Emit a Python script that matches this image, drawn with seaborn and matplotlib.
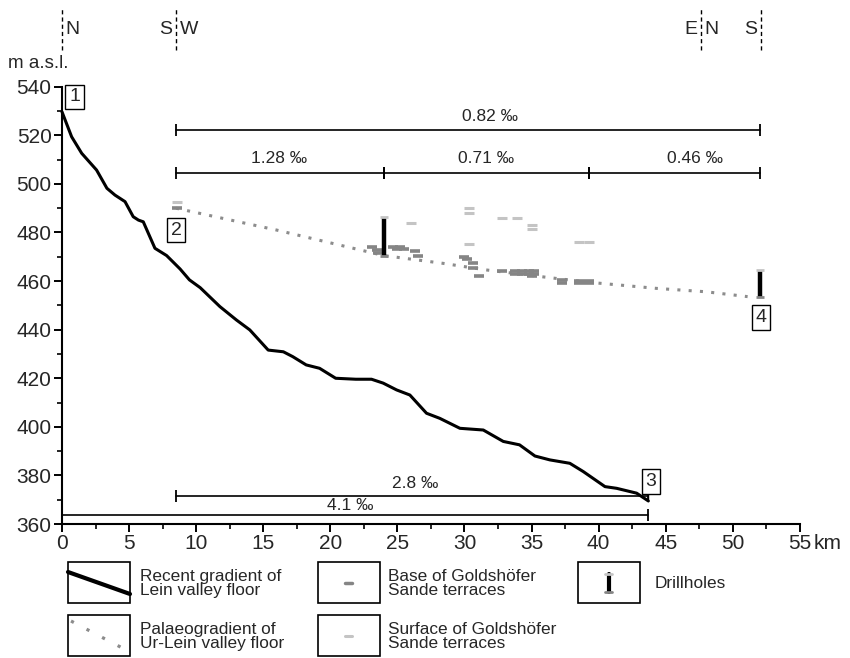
import matplotlib
matplotlib.use("Agg")
import matplotlib.pyplot as plt
import seaborn as sns
import pandas as pd
from matplotlib.ticker import MultipleLocator
from matplotlib.patches import Rectangle

# ---------------- data ----------------
recent_km = [0.0, 0.72, 1.47, 2.58, 3.35, 3.95, 4.7, 5.31, 5.7, 6.06, 6.93, 7.8,
             8.8, 9.5, 10.3, 11.77, 13.0, 14.0, 15.37, 16.5, 17.2, 18.2, 19.2,
             20.4, 21.9, 23.07, 23.94, 24.94, 25.93, 27.17, 28.16, 29.66, 31.4,
             32.89, 34.1, 35.25, 36.36, 37.85, 38.85, 40.47, 41.34, 42.83, 43.7]
recent_m = [529.7, 519.4, 512.6, 505.7, 498.2, 495.4, 492.7, 486.5, 485.1, 484.4,
            473.5, 470.5, 465.0, 460.5, 457.3, 449.5, 444.0, 439.9, 431.6, 430.9,
            428.9, 425.5, 424.1, 420.0, 419.6, 419.6, 418.0, 415.2, 413.1, 405.6,
            403.5, 399.4, 398.7, 394.0, 392.6, 388.0, 386.4, 385.0, 381.6, 375.4,
            374.7, 372.7, 369.5]

palaeo_km = [8.5, 16.0, 20.1, 24.0, 28.4, 31.6, 35.9, 39.3, 44.3, 48.0, 51.1]
palaeo_m = [490.0, 481.0, 475.6, 470.5, 467.3, 464.6, 461.7, 459.5, 457.0, 455.6, 453.6]

base_km = [8.55, 23.1, 23.45, 23.55, 24.7, 25.2, 25.0, 25.5, 26.3, 26.5,
           30.0, 30.2, 30.6, 30.6, 31.1, 32.8, 33.8, 34.3, 34.8, 35.2,
           33.8, 34.3, 34.8, 35.2, 35.0, 37.3, 37.3, 38.5, 38.5, 39.3, 39.3]
base_m = [490.0, 473.9, 472.8, 471.6, 474.2, 474.2, 473.1, 473.1, 472.3, 470.3,
          470.0, 469.1, 467.3, 465.5, 462.2, 464.2, 464.0, 464.0, 464.0, 464.0,
          463.0, 463.0, 463.0, 463.0, 462.0, 460.5, 459.2, 459.2, 460.0, 459.2, 460.0]

surface_km = [8.55, 26.05, 30.3, 30.3, 30.3, 32.8, 33.95, 35.0, 35.0, 38.5, 39.3]
surface_m = [492.7, 484.0, 490.2, 488.2, 475.2, 486.1, 486.1, 483.1, 481.3, 476.0, 476.0]

drill_km = [24.0, 52.0]
drill_top = [486.3, 464.5]
drill_bottom = [470.3, 453.6]

grad_labels = ["0.82 ‰", "1.28 ‰", "0.71 ‰", "0.46 ‰", "2.8 ‰", "4.1 ‰"]
grad_start = [8.5, 8.5, 24.0, 39.3, 8.5, 0.0]
grad_end = [52.0, 24.0, 39.3, 52.0, 43.7, 43.7]
grad_level = [522.0, 504.4, 504.4, 504.4, 371.6, 363.8]
grad_label_km = [31.9, 16.2, 31.6, 47.2, 26.3, 21.5]
grad_label_gap = [5, 5, 5, 5, 3.5, 1]

point_ids = ["1", "2", "3", "4"]
point_km = [0.95, 8.5, 43.9, 52.1]
point_m = [535.8, 481.0, 377.6, 445.0]

dir_km = [0.0, 8.5, 47.6, 52.1]
dir_left = ["", "S", "E", "S"]
dir_right = ["N", "W", "N", ""]

x_ticks = [0, 5, 10, 15, 20, 25, 30, 35, 40, 45, 50, 55]
y_ticks = [360, 380, 400, 420, 440, 460, 480, 500, 520, 540]

BASE_C = "#858585"
SURF_C = "#c4c4c4"
DOT_C = "#8c8c8c"

# ---------------- style ----------------
sns.set_style("ticks")
plt.rcParams["font.family"] = ["Liberation Sans", "DejaVu Sans"]

fig = plt.figure(figsize=(8.5, 6.58), dpi=100)
ax = fig.add_axes([0.0729, 0.2036, 0.8682, 0.6646])

df_recent = pd.DataFrame({"km": recent_km, "m": recent_m})
df_palaeo = pd.DataFrame({"km": palaeo_km, "m": palaeo_m})
df_base = pd.DataFrame({"km": base_km, "m": base_m})
df_surf = pd.DataFrame({"km": surface_km, "m": surface_m})

sns.lineplot(data=df_palaeo, x="km", y="m", ax=ax, color=DOT_C, lw=2.2,
             linestyle=(0, (1, 2.7)), sort=False, zorder=2)
sns.lineplot(data=df_recent, x="km", y="m", ax=ax, color="black", lw=2.2,
             sort=False, zorder=4, clip_on=False)

ax.scatter(df_base["km"], df_base["m"], marker="_", s=45, linewidths=2.6,
           color=BASE_C, zorder=3)
ax.scatter(df_surf["km"], df_surf["m"], marker="_", s=45, linewidths=2.2,
           color=SURF_C, zorder=3)

# drillholes
for k, t, b in zip(drill_km, drill_top, drill_bottom):
    ax.vlines(k, b, t, color="black", lw=3.2, zorder=5)
    ax.scatter([k], [t], marker="_", s=40, linewidths=2, color=SURF_C, zorder=6)
    ax.scatter([k], [b], marker="_", s=40, linewidths=2, color=BASE_C, zorder=6)

# gradient bars
for lab, s, e, lev, lx, gap in zip(grad_labels, grad_start, grad_end, grad_level,
                                   grad_label_km, grad_label_gap):
    ax.plot([s, e], [lev, lev], color="black", lw=1.2, marker="|", ms=9, mew=1.3,
            zorder=4, clip_on=False)
    ax.annotate(lab, (lx, lev), xytext=(0, gap), textcoords="offset points",
                ha="center", va="bottom", fontsize=12.5)

# point labels
for pid, k, m in zip(point_ids, point_km, point_m):
    ax.text(k, m, pid, ha="center", va="center", fontsize=14, zorder=7,
            bbox=dict(boxstyle="square,pad=0.2", fc="white", ec="black", lw=1.0))
ax.plot([43.7, 43.7], [369.5, 374.0], color="black", lw=1.0, zorder=6)

# direction labels
tr = ax.get_xaxis_transform()
for k, l, r in zip(dir_km, dir_left, dir_right):
    ax.plot([k, k], [1.084, 1.178], transform=tr, color="black", lw=1.0,
            linestyle=(0, (3, 2.2)), clip_on=False)
    if l:
        ax.annotate(l, (k, 1.13), xycoords=tr, xytext=(-2.5, 0),
                    textcoords="offset points", ha="right", va="center", fontsize=14)
    if r:
        ax.annotate(r, (k, 1.13), xycoords=tr, xytext=(2.5, 0),
                    textcoords="offset points", ha="left", va="center", fontsize=14)
ax.text(-1.8, 1.052, "m a.s.l.", transform=tr, ha="center", va="center", fontsize=13.5)

# axes
ax.set_xlim(0, 55)
ax.set_ylim(360, 540)
ax.set_xticks(x_ticks)
ax.set_yticks(y_ticks)
ax.set_xticklabels([str(v) for v in x_ticks])
ax.set_yticklabels([str(v) for v in y_ticks])
ax.xaxis.set_minor_locator(MultipleLocator(2.5))
ax.yaxis.set_minor_locator(MultipleLocator(10))
ax.tick_params(which="major", length=6, width=1.4, labelsize=15, pad=1.5, color="black")
ax.tick_params(which="minor", length=3.5, width=1.2, color="black")
ax.annotate("km", (55, 0), xycoords=tr, xytext=(10, -7.5), textcoords="offset points",
            ha="left", va="top", fontsize=15, annotation_clip=False)
ax.set_xlabel("")
ax.set_ylabel("")
for sp in ["top", "right"]:
    ax.spines[sp].set_visible(False)
for sp in ["left", "bottom"]:
    ax.spines[sp].set_linewidth(1.5)
    ax.spines[sp].set_color("black")

# ---------------- legend ----------------
lg = fig.add_axes([0, 0, 1, 1])
lg.set_xlim(0, 850)
lg.set_ylim(658, 0)
lg.axis("off")
lg.patch.set_visible(False)

col_x = [68, 318, 578]
row_y = [562, 615]
text_dx = [72, 70, 77]
BW, BH = 62, 41
items = [("Recent gradient of\nLein valley floor", 0, 0, "recent"),
         ("Palaeogradient of\nUr-Lein valley floor", 0, 1, "palaeo"),
         ("Base of Goldshöfer\nSande terraces", 1, 0, "base"),
         ("Surface of Goldshöfer\nSande terraces", 1, 1, "surface"),
         ("Drillholes", 2, 0, "drill")]
for text, c, r, kind in items:
    x0, y0 = col_x[c], row_y[r]
    lg.add_patch(Rectangle((x0, y0), BW, BH, fill=False, ec="black", lw=1.2))
    lg.text(x0 + text_dx[c], y0 + BH / 2 + 1, text, ha="left", va="center",
            fontsize=12.4, linespacing=0.95)
    cx, cy = x0 + BW / 2, y0 + BH / 2
    if kind == "recent":
        lg.plot([x0, x0 + BW], [y0 + 10, y0 + 32], color="black", lw=3)
    elif kind == "palaeo":
        lg.plot([x0 + 3, x0 + BW - 2], [y0 + 6, y0 + 36], color=DOT_C, lw=2.3,
                linestyle=(0, (1, 4.5)))
    elif kind == "base":
        lg.plot([cx - 3.5, cx + 3.5], [cy, cy], color=BASE_C, lw=2.5)
    elif kind == "surface":
        lg.plot([cx - 3.5, cx + 3.5], [cy, cy], color=SURF_C, lw=2.2)
    else:
        lg.plot([cx, cx], [cy - 9, cy + 9], color="black", lw=3)
        lg.plot([cx - 3.5, cx + 3.5], [cy - 9, cy - 9], color=SURF_C, lw=2)
        lg.plot([cx - 3.5, cx + 3.5], [cy + 9, cy + 9], color=BASE_C, lw=2)

fig.savefig("out.png", dpi=100, facecolor="white")
